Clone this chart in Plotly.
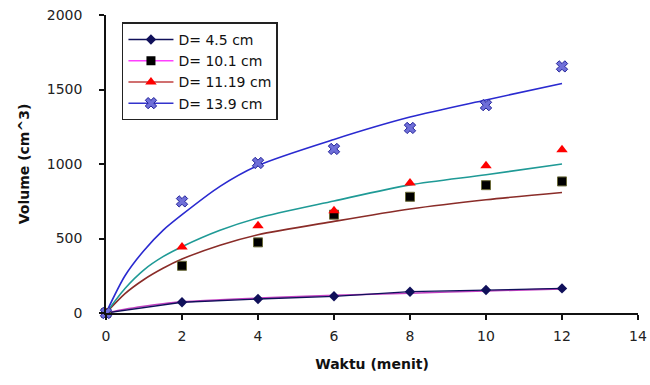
import plotly.graph_objects as go

# ---- data ----
waktu = [0, 2, 4, 6, 8, 10, 12]
series_names = ["D= 4.5 cm", "D= 10.1 cm", "D= 11.19 cm", "D= 13.9 cm"]
vol_d45 = [0, 72, 94, 112, 143, 154, 165]
vol_d101 = [0, 317, 474, 660, 780, 858, 883]
vol_d1119 = [0, 443, 586, 687, 872, 989, 1096]
vol_d139 = [0, 749, 1007, 1101, 1242, 1395, 1655]

# trend curves
trend_x = [0, 0.5, 1, 1.5, 2, 3, 4, 6, 8, 10, 12]
trend_d45 = [0, 25, 45, 62, 75, 88, 100, 118, 133, 148, 162]
trend_d101 = [0, 130, 225, 300, 362, 455, 525, 615, 698, 760, 809]
trend_d1119 = [0, 165, 290, 378, 445, 555, 638, 752, 860, 928, 1000]
trend_d139 = [0, 250, 420, 555, 660, 850, 990, 1165, 1315, 1430, 1540]

x_ticks = [0, 2, 4, 6, 8, 10, 12, 14]
y_ticks = [0, 500, 1000, 1500, 2000]

FONT = "DejaVu Sans, Arial, sans-serif"

fig = go.Figure()

# trend curves
for ys, col in [(trend_d45, "#c040c0"), (trend_d101, "#8a2c28"),
                (trend_d1119, "#1f9a96"), (trend_d139, "#2a2ad0")]:
    fig.add_trace(go.Scatter(x=trend_x, y=ys, mode="lines",
                             line=dict(color=col, width=1.6, shape="spline", smoothing=0.8),
                             showlegend=False, hoverinfo="skip", cliponaxis=False))

# series markers
fig.add_trace(go.Scatter(x=waktu, y=vol_d45, mode="lines+markers",
                         line=dict(color="#10105a", width=1.3),
                         marker=dict(symbol="diamond", size=8, color="#10105a"),
                         showlegend=False, cliponaxis=False))
fig.add_trace(go.Scatter(x=waktu, y=vol_d101, mode="markers",
                         marker=dict(symbol="square", size=9, color="#000000",
                                     line=dict(color="#6b6b3a", width=1)),
                         showlegend=False, cliponaxis=False))
fig.add_trace(go.Scatter(x=waktu, y=vol_d1119, mode="markers",
                         marker=dict(symbol="triangle-up", size=10, color="#ff0000"),
                         showlegend=False, cliponaxis=False))
fig.add_trace(go.Scatter(x=waktu, y=vol_d139, mode="markers",
                         marker=dict(symbol="x", size=10, color="#6f6fd8",
                                     line=dict(color="#22229a", width=1)),
                         showlegend=False, cliponaxis=False))

# legend entries (legend-only, no data)
leg_styles = [
    dict(line=dict(color="#10105a", width=1.5), marker=dict(symbol="diamond", size=8, color="#10105a")),
    dict(line=dict(color="#ff40ff", width=1.5), marker=dict(symbol="square", size=9, color="#000000")),
    dict(line=dict(color="#c04040", width=1.5), marker=dict(symbol="triangle-up", size=10, color="#ff0000")),
    dict(line=dict(color="#3333cc", width=1.5), marker=dict(symbol="x", size=10, color="#6f6fd8",
                                                            line=dict(color="#22229a", width=1))),
]
for name, st in zip(series_names, leg_styles):
    fig.add_trace(go.Scatter(x=[None], y=[None], mode="lines+markers", name=name, **st))

fig.update_layout(
    width=650, height=385,
    margin=dict(l=106, r=12, t=15, b=72),
    paper_bgcolor="white", plot_bgcolor="white",
    font=dict(family=FONT, size=14, color="#222222"),
    showlegend=True,
    legend=dict(x=0.03, y=0.975, xanchor="left", yanchor="top",
                bgcolor="white", bordercolor="#222222", borderwidth=1.5,
                font=dict(family=FONT, size=14, color="#111111"),
                tracegroupgap=0, itemwidth=45),
    xaxis=dict(range=[0, 14], tickvals=x_ticks, showgrid=False, zeroline=False,
               automargin=False, ticklabeloverflow="allow",
               showline=True, linecolor="#111111", linewidth=1.5,
               ticks="outside", ticklen=5, tickcolor="#111111", tickwidth=1.5,
               tickfont=dict(size=14, color="#222222"), ticklabelstandoff=4,
               title=dict(text="<b>Waktu (menit)</b>", font=dict(size=14, color="#111111"), standoff=17)),
    yaxis=dict(range=[0, 2000], tickvals=y_ticks, showgrid=False, zeroline=False,
               automargin=False, ticklabeloverflow="allow",
               showline=True, linecolor="#111111", linewidth=1.5,
               ticks="outside", ticklen=5, tickcolor="#111111", tickwidth=1.5,
               tickfont=dict(size=14, color="#222222"), ticklabelstandoff=14,
               title=dict(text="<b>Volume (cm^3)</b>", font=dict(size=14, color="#111111"), standoff=14)),
)

# remove the default 8px page margin so the figure sits at the window's corner
fig.write_html("out.html", config={"displayModeBar": False},
               post_script="document.body.style.margin='0';document.body.style.overflow='hidden';")
